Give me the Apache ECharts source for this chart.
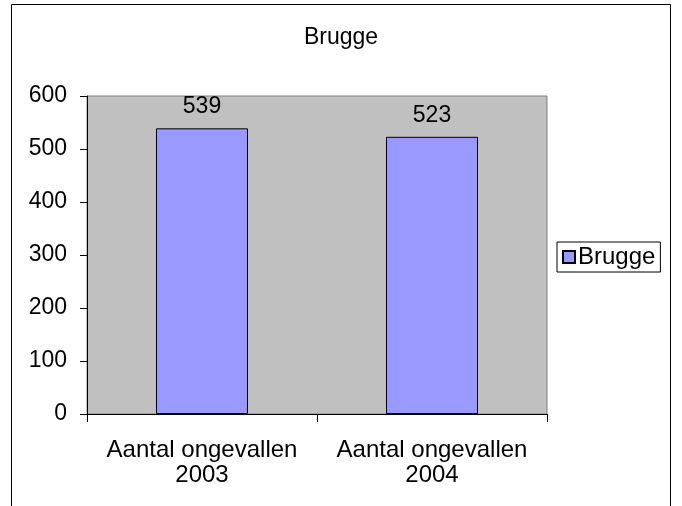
<!DOCTYPE html>
<html>
<head>
<meta charset="utf-8">
<script src="https://cdn.jsdelivr.net/npm/echarts@6/dist/echarts.min.js"></script>
<style>
  html, body { margin: 0; padding: 0; background: #fff; }
  #chart { width: 682px; height: 506px; }
</style>
</head>
<body>
<div id="chart"></div>
<script>
var categories = ["Aantal ongevallen\n2003", "Aantal ongevallen\n2004"];
var brugge = [539, 523];
var yTicks = { min: 0, max: 600, interval: 100 };

var myChart = echarts.init(document.getElementById("chart"));
var font = "'Liberation Sans', Arial, sans-serif";
var fs = 23;

var option = {
  backgroundColor: "#fff",
  animation: false,
  textStyle: { fontFamily: font, color: "#000" },
  title: {
    text: "Brugge",
    left: 336,
    textAlign: "center",
    top: 21,
    textStyle: { fontFamily: font, fontSize: fs, fontWeight: "normal", color: "#000" }
  },
  graphic: [
    {
      type: "rect",
      z: -10,
      shape: { x: 11.5, y: 4.5, width: 659, height: 520 },
      style: { fill: "none", stroke: "#000", lineWidth: 1 }
    }
  ],
  legend: {
    data: ["Brugge"],
    left: 557,
    top: 242,
    orient: "vertical",
    backgroundColor: "#fff",
    borderColor: "#000",
    borderWidth: 1,
    padding: [3, 5, 3, 5],
    itemWidth: 12,
    itemHeight: 12,
    icon: "rect",
    textStyle: { fontFamily: font, fontSize: 24, color: "#000", padding: [0, 0, 0, -2] }
  },
  grid: {
    left: 87,
    top: 96,
    width: 460,
    height: 318,
    show: true,
    backgroundColor: "#C0C0C0",
    borderColor: "#808080",
    borderWidth: 1
  },
  xAxis: {
    type: "category",
    data: categories,
    axisLine: { lineStyle: { color: "#000", width: 1 } },
    axisTick: { show: true, length: 8, lineStyle: { color: "#000" } },
    axisLabel: {
      fontFamily: font,
      fontSize: 24,
      color: "#000",
      margin: 24,
      lineHeight: 25,
      interval: 0
    },
    splitLine: { show: false }
  },
  yAxis: {
    type: "value",
    min: yTicks.min,
    max: yTicks.max,
    interval: yTicks.interval,
    axisLine: { show: true, lineStyle: { color: "#000", width: 1 } },
    axisTick: { show: true, length: 7, lineStyle: { color: "#000" } },
    axisLabel: { fontFamily: font, fontSize: fs, color: "#000", margin: 20 },
    splitLine: { show: false }
  },
  series: [
    {
      name: "Brugge",
      type: "bar",
      data: brugge,
      barWidth: "40%",
      itemStyle: { color: "#9999FF", borderColor: "#000", borderWidth: 1 },
      label: {
        show: true,
        position: "top",
        distance: 10,
        fontFamily: font,
        fontSize: fs,
        color: "#000"
      }
    }
  ]
};

myChart.setOption(option);
</script>
</body>
</html>
